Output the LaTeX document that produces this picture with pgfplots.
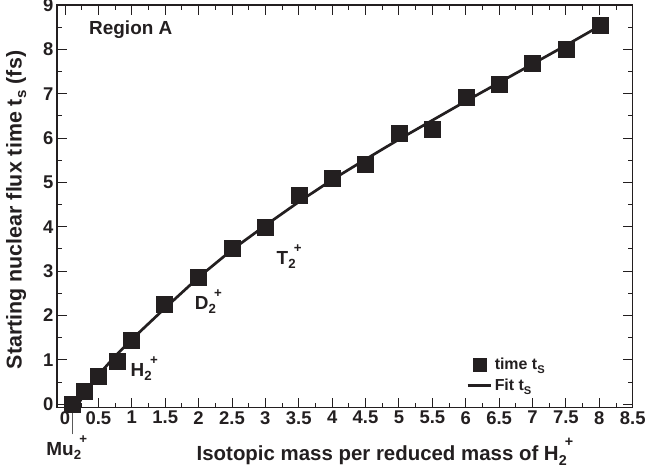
\documentclass[border=0pt]{standalone}
\usepackage{fontspec}
\setmainfont{Liberation Sans}
\usepackage{pgfplots}
\pgfplotsset{compat=1.18}
\usepackage{pgfplotstable}

\definecolor{ink}{HTML}{231F20}

% measured starting times
\pgfplotstableread{
x      t
0.11   0.00
0.285  0.30
0.49   0.62
0.78   0.97
0.99   1.44
1.49   2.26
2.00   2.86
2.50   3.51
3.00   4.00
3.50   4.71
4.00   5.09
4.50   5.41
5.00   6.10
5.50   6.21
6.00   6.91
6.50   7.21
7.00   7.68
7.50   8.01
8.02   8.55
}\timedata

% fitted curve
\pgfplotstableread{
x      t
0.17  -0.08
0.30   0.27
0.50   0.66
0.75   1.08
1.00   1.46
1.50   2.17
2.00   2.86
2.50   3.48
3.00   4.03
3.50   4.56
4.00   5.06
4.50   5.52
5.00   5.97
5.50   6.40
6.00   6.83
6.50   7.25
7.00   7.67
7.50   8.09
8.00   8.52
}\fitdata

\newcommand\ion[1]{#1\textsubscript{\raisebox{-0.12em}{2}}\kern-0.12em\raisebox{0.3em}{\textsuperscript{+}}}
\newcommand\tS{t\textsubscript{\raisebox{-0.1em}{S}}}

\begin{document}
\begin{tikzpicture}
\begin{axis}[
  scale only axis,
  width=575.7bp, height=402.7bp,
  xmin=-0.12, xmax=8.5,
  ymin=-0.08, ymax=9,
  xtick={0,0.5,...,8.5},
  xticklabels={0,0.5,1,1.5,2,2.5,3,3.5,4,4.5,5,5.5,6,6.5,7,7.5,8,8.5},
  ytick={0,1,...,9},
  minor x tick num=1,
  minor y tick num=1,
  tick align=inside,
  xtick pos=both, ytick pos=both,
  major tick length=10bp,
  minor tick length=5bp,
  every tick/.style={ink, line width=0.9bp},
  axis line style={ink, line width=1.2bp},
  /pgf/number format/assume math mode=true,
  tick label style={font=\fontsize{18.5}{21}\selectfont\bfseries, text=ink},
  xlabel={Isotopic mass per reduced mass of \ion{H}},
  ylabel={Starting nuclear flux time t\textsubscript{\raisebox{-0.1em}{s}} (fs)},
  xlabel style={at={(axis description cs:0.57,-0.11)}, anchor=center,
    font=\fontsize{20.5}{23}\selectfont\bfseries, text=ink},
  ylabel style={at={(axis description cs:-0.071,0.491)}, anchor=center,
    font=\fontsize{21.5}{24}\selectfont\bfseries, text=ink},
  legend style={at={(axis cs:5.96,1.14)}, anchor=north west, draw=none,
    fill=none, font=\fontsize{16}{19}\selectfont\bfseries, text=ink,
    row sep=4bp},
  legend cell align=left,
  legend image code/.code={%
    \draw[mark repeat=2, mark phase=2]
      plot coordinates {(0cm,0cm) (0.42cm,0cm) (0.84cm,0cm)};},
  clip=false,
]
\addplot[only marks, mark=square*, mark size=8bp, ink,
  mark options={fill=ink, draw=ink},
  legend image post style={mark size=6.5bp}]
  table[x=x, y=t] {\timedata};
\addlegendentry{time \tS}
\addplot[ink, line width=2.7bp, mark=none] table[x=x, y=t] {\fitdata};
\addlegendentry{Fit \tS}

\node[anchor=west, font=\fontsize{19}{22}\selectfont\bfseries, text=ink]
  at (axis cs:0.31,8.45) {Region A};
\node[font=\fontsize{19}{22}\selectfont\bfseries, text=ink]
  at (axis cs:1.19,0.80) {\ion{H}};
\node[font=\fontsize{19}{22}\selectfont\bfseries, text=ink]
  at (axis cs:2.15,2.32) {\ion{D}};
\node[font=\fontsize{19}{22}\selectfont\bfseries, text=ink]
  at (axis cs:3.36,3.32) {\ion{T}};
\node[font=\fontsize{19}{22}\selectfont\bfseries, text=ink]
  at (axis cs:0.03,-0.98) {\ion{Mu}};
\draw[->, gray!70!black, line width=0.6bp, >=stealth]
  (axis cs:0.11,-0.68) -- (axis cs:0.11,-0.08);
\end{axis}
\pgfresetboundingbox
\path (current axis.south west) ++(-57bp,-68.3bp) coordinate (bbsw);
\path (current axis.north east) ++(15.3bp,5bp) coordinate (bbne);
\path (bbsw) rectangle (bbne);
\end{tikzpicture}
\end{document}
